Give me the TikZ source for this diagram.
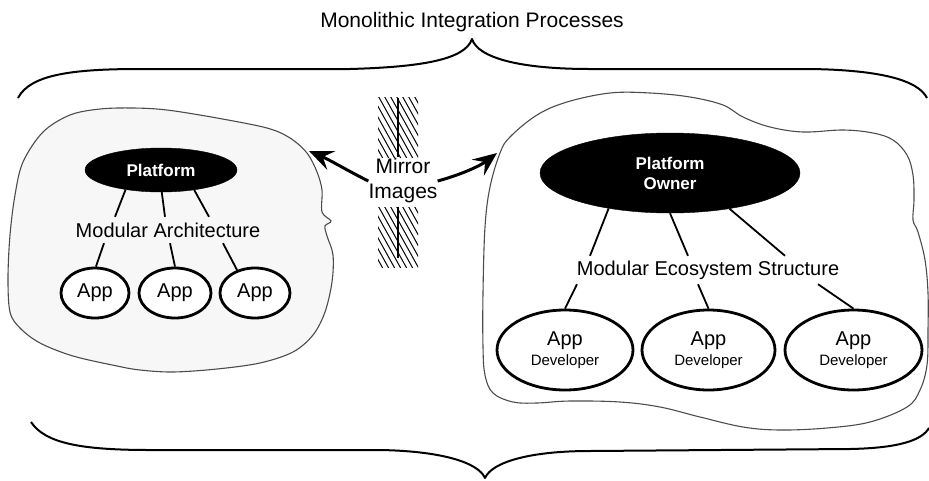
\documentclass[tikz,border=0pt]{standalone}
\usepackage{fontspec}
\setmainfont{Liberation Sans}
\usetikzlibrary{arrows.meta,calc,shapes.geometric}
\begin{document}
\begin{tikzpicture}[x=1pt,y=-1pt,
  brace/.style={line width=2pt, line join=round},
  blob/.style={draw=black!70, line width=1.1pt},
  darkell/.style={ellipse, fill=black, draw=black, inner sep=0pt, text=white,
    font=\bfseries\fontsize{17}{20}\selectfont, align=center},
  appell/.style={ellipse, draw=black, line width=2.8pt, fill=white, inner sep=0pt,
    align=center, font=\fontsize{20}{20}\selectfont},
  lbl/.style={inner sep=0pt, font=\fontsize{20}{24}\selectfont},
  link/.style={line width=1.8pt},
  hatch/.style={line width=1pt},
  mirrorarrow/.style={line width=3pt, -{Stealth[length=24pt,width=20pt,inset=9pt]}},
]
\useasboundingbox (0,0) rectangle (929,480);

% title and braces
\node[font=\fontsize{21}{24}\selectfont] (title) at (472,22) {Monolithic Integration Processes};
\draw[brace] (18,98) .. controls (30,75) and (70,69) .. (140,69) -- (350,69)
  .. controls (420,67) and (465,60) .. (472,39)
  .. controls (478,58) and (520,69) .. (590,69) -- (810,69)
  .. controls (880,70) and (918,80) .. (927,98);
\draw[brace] (31,422) .. controls (45,443) and (80,450) .. (150,450) -- (380,450)
  .. controls (440,451) and (478,462) .. (485,478)
  .. controls (492,462) and (530,451) .. (590,451) -- (850,449)
  .. controls (900,448) and (922,440) .. (929,428);

% blobs
\draw[blob, fill=black!3] plot[smooth cycle, tension=0.55] coordinates {
  (23,162) (43,132) (70,115) (100,109) (133,108) (167,110) (217,118) (267,128)
  (290,138) (307,153) (317,172) (322,190) (322,212) (331,221) (325,226)
  (327,236) (333,255) (332,282) (325,312) (313,335) (293,352) (260,363)
  (217,369) (173,372) (140,370) (117,366) (73,356) (40,343) (20,328)
  (10,312) (8,278) (10,235) (15,195)};
\draw[blob] plot[smooth cycle, tension=0.6] coordinates {
  (510,137) (537,115) (567,102) (610,93) (650,93) (690,97) (723,105) (743,117)
  (770,127) (803,132) (843,130) (873,133) (893,140) (907,155) (913,175)
  (914,200) (913,220) (918,232) (925,260) (928,293) (928,330) (927,365)
  (920,390) (907,407) (870,422) (827,428) (780,430) (743,427) (700,417)
  (660,407) (620,402) (570,401) (537,403) (513,402) (493,393) (485,375)
  (483,347) (483,293) (485,227) (490,187) (500,153)};

% mirror
\begin{scope}
  \clip (378,97) rectangle (418,157);
  \foreach \i in {0,...,14} \draw[hatch] ({334+6*\i},92) -- ++(40,72);
\end{scope}
\begin{scope}
  \clip (378,207) rectangle (418,267);
  \foreach \i in {0,...,14} \draw[hatch] ({334+6*\i},202) -- ++(40,72);
\end{scope}
\draw[line width=1.4pt] (398,98) -- (398,157);
\draw[line width=1.4pt] (398,207) -- (398,258);
\node[lbl, align=center, font=\fontsize{21}{25}\selectfont] (mir) at (403,181) {Mirror\\Images};
\coordinate (lend) at (309,151);
\coordinate (rend) at (497,153);
\draw[mirrorarrow] (mir.west) .. controls (350,172) and (330,160) .. (lend);
\draw[mirrorarrow] (mir.east) .. controls (460,175) and (480,166) .. (rend);

% left: modular architecture
\node[darkell, minimum width=152, minimum height=44] (plat) at (161,170) {Platform};
\node[lbl, minimum width=190, minimum height=26] (ma) at (168,230) {Modular Architecture};
\node[appell, minimum width=68, minimum height=50] (a1) at (95,293) {App};
\node[appell, minimum width=72, minimum height=50] (a2) at (175,293) {App};
\node[appell, minimum width=70, minimum height=50] (a3) at (255,293) {App};
\draw[link] (plat.209) -- ($(ma.north)+(-53,0)$);
\draw[link] (plat.272) -- ($(ma.north)+(-3,0)$);
\draw[link] (plat.329) -- ($(ma.north)+(41,0)$);
\draw[link] ($(ma.south)+(-64,0)$) -- (a1.88);
\draw[link] ($(ma.south)+(2,0)$) -- (a2.north);
\draw[link] ($(ma.south)+(55,0)$) -- (a3.128);

% right: modular ecosystem
\node[darkell, minimum width=260, minimum height=80] (own) at (670,173) {Platform\\Owner};
\node[lbl, minimum width=270, minimum height=28] (mes) at (708,270) {Modular Ecosystem Structure};
\node[appell, minimum width=136, minimum height=80] (d1) at (565,350) {App\\{\fontsize{15}{18}\selectfont Developer}};
\node[appell, minimum width=133, minimum height=80] (d2) at (708.5,350) {App\\{\fontsize{15}{18}\selectfont Developer}};
\node[appell, minimum width=137, minimum height=80] (d3) at (853.5,350) {App\\{\fontsize{15}{18}\selectfont Developer}};
\draw[link] (own.210.6) -- ($(mes.north)+(-118,0)$);
\draw[link] (own.270) -- ($(mes.north)+(-20,0)$);
\draw[link] (own.329.4) -- ($(mes.north)+(77,0)$);
\draw[link] ($(mes.south)+(-131,0)$) -- (d1.north);
\draw[link] ($(mes.south)+(-10,0)$) -- (d2.north);
\draw[link] ($(mes.south)+(110,0)$) -- (d3.north);
\end{tikzpicture}
\end{document}
